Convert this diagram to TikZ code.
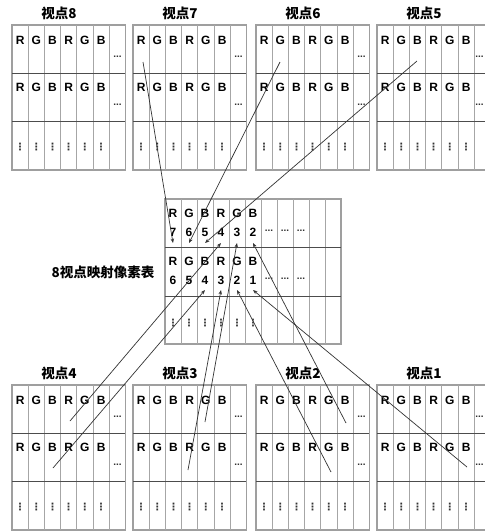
\documentclass[tikz,border=0pt]{standalone}
\usepackage{fontspec}
\setmainfont{Liberation Sans}
\newfontfamily\cjk{Noto Sans CJK SC}
\newfontfamily\symf{DejaVu Sans}
\usetikzlibrary{arrows.meta}
\tikzset{
  gridframe/.style={draw=gray!75, line width=1.1pt},
  gridv/.style={draw=gray!70, line width=1pt},
  gridh/.style={draw=black!70, line width=0.9pt},
  rgb/.style={font=\bfseries\fontsize{12}{12}\selectfont, inner sep=0pt},
  hdotsn/.style={font=\bfseries\fontsize{10}{10}\selectfont, inner sep=0pt, text=black!80},
  vdotsn/.style={font=\symf\bfseries\fontsize{10}{10}\selectfont, inner sep=0pt, text=black!80},
  viewtitle/.style={font=\cjk\bfseries\fontsize{13.5}{13.5}\selectfont, inner sep=0pt},
  conn/.style={draw=black!80, line width=0.7pt},
  tipped/.style={-{Stealth[length=4.5pt,width=3.5pt]}}
}
\begin{document}
\begin{tikzpicture}[x=1pt,y=-1pt]
\clip (0,0) rectangle (485,531);
\fill[white] (0,0) rectangle (485,531);
% ---------- the eight view grids ----------
\foreach \n/\x/\y in {8/12/25, 7/133/25, 6/256/25, 5/377/25, 4/12/385, 3/133/385, 2/256/385, 1/377/385}{
  \node[viewtitle] (title\n) at (\x+47,\y-12) {视点\n};
  \draw[gridframe] (\x,\y) rectangle ++(113.4,145);
  \foreach \c in {1,...,6}{\draw[gridv] (\x+\c*16.2,\y) -- ++(0,145);}
  \foreach \r in {1,2}{\draw[gridh] (\x,\y+\r*48.3) -- ++(113.4,0);}
  \foreach \c/\l in {1/R,2/G,3/B,4/R,5/G,6/B}{
    \node[rgb] (v\n-a\c) at (\x+\c*16.2-8.1,\y+15) {\l};
    \node[rgb] (v\n-b\c) at (\x+\c*16.2-8.1,\y+62) {\l};
    \node[vdotsn] (v\n-c\c) at (\x+\c*16.2-8.1,\y+122) {⋮};
  }
  \pgfmathsetmacro\dx{min(\x+105.5,479.5)}
  \node[hdotsn] (v\n-a7) at (\dx,\y+32) {...};
  \node[hdotsn] (v\n-b7) at (\dx,\y+80) {...};
}
% ---------- central mapping table ----------
\draw[gridframe] (165,199) rectangle (341,344);
\foreach \c in {1,...,10}{\draw[gridv] (165+\c*16,199) -- (165+\c*16,344);}
\draw[gridh] (165,247) -- (341,247);
\draw[gridh] (165,296) -- (341,296);
\foreach \c/\l/\a/\b in {1/R/7/6,2/G/6/5,3/B/5/4,4/R/4/3,5/G/3/2,6/B/2/1}{
  \node[rgb] (m-l\c) at (165+\c*16-8,213) {\l};
  \node[rgb] (m-n\c) at (165+\c*16-8,232) {\a};
  \node[rgb] (m-L\c) at (165+\c*16-8,261) {\l};
  \node[rgb] (m-N\c) at (165+\c*16-8,280) {\b};
  \node[vdotsn] (m-v\c) at (165+\c*16-8,323) {⋮};
  \coordinate (tipA\c) at (165+\c*16-8,243);
  \coordinate (tipB\c) at (165+\c*16-8,290);
}
\foreach \c in {7,8,9}{
  \node[hdotsn] (m-d\c) at (165+\c*16-8,231) {...};
  \node[hdotsn] (m-D\c) at (165+\c*16-8,279) {...};
}
\node[viewtitle] (maplabel) at (103,272) {8视点映射像素表};
% ---------- connector start points ----------
\coordinate (s7) at (143,62);
\coordinate (s6) at (280,62);
\coordinate (s5) at (417,61);
\coordinate (s4a) at (70,421);
\coordinate (s3a) at (205,422);
\coordinate (s2a) at (346,423);
\coordinate (s4b) at (53,468);
\coordinate (s3b) at (188,470);
\coordinate (s2b) at (331,472);
\coordinate (s1b) at (467,467);
% ---------- connectors ----------
\draw[conn,tipped] (s7) -- (tipA1);
\draw[conn,tipped] (s6) -- (tipA2);
\draw[conn,tipped] (s5) -- (tipA3);
\draw[conn,tipped] (s4a) -- (tipA4);
\draw[conn,tipped] (s3a) -- (tipA5);
\draw[conn,tipped] (s2a) -- (tipA6);
\draw[conn,tipped] (s4b) -- (tipB3);
\draw[conn,tipped] (s3b) -- (tipB4);
\draw[conn,tipped] (s2b) -- (tipB5);
\draw[conn,tipped] (s1b) -- (tipB6);
\end{tikzpicture}
\end{document}
